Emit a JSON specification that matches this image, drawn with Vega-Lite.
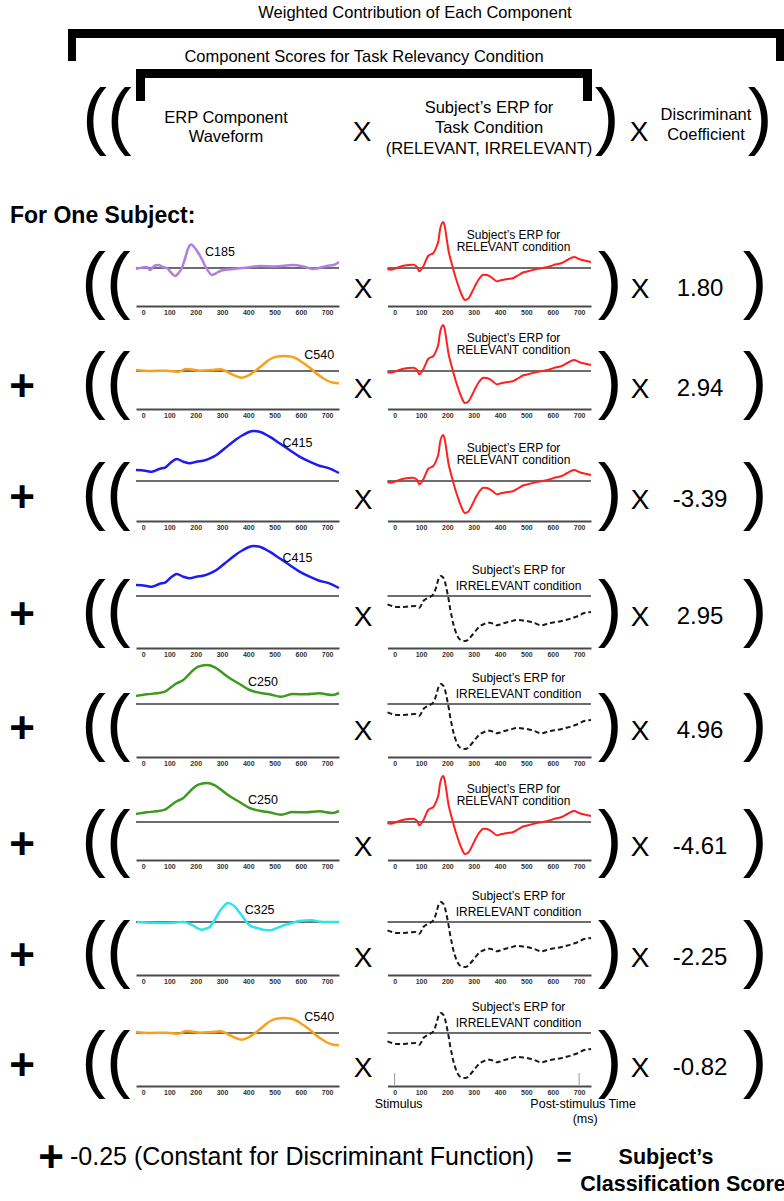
{
"$schema": "https://vega.github.io/schema/vega-lite/v6.json",
"padding": 0,
"background": "#ffffff",
"spacing": 0,
"bounds": "flush",
"config": {
  "font": "Liberation Sans",
  "view": {"stroke": null},
  "axis": {"ticks": false, "grid": false, "domainColor": "#4a4a4a", "domainWidth": 2, "labelFont": "Liberation Sans", "labelFontSize": 7, "labelFontWeight": "bold", "labelColor": "#333333", "labelPadding": 2, "labelFlush": false, "labelOverlap": false}
},
"datasets": {
  "rows": [
    {"row": 1, "op": "", "comp": "C185", "cond": "RELEVANT", "coef": "1.80"},
    {"row": 2, "op": "+", "comp": "C540", "cond": "RELEVANT", "coef": "2.94"},
    {"row": 3, "op": "+", "comp": "C415", "cond": "RELEVANT", "coef": "-3.39"},
    {"row": 4, "op": "+", "comp": "C415", "cond": "IRRELEVANT", "coef": "2.95"},
    {"row": 5, "op": "+", "comp": "C250", "cond": "IRRELEVANT", "coef": "4.96"},
    {"row": 6, "op": "+", "comp": "C250", "cond": "RELEVANT", "coef": "-4.61"},
    {"row": 7, "op": "+", "comp": "C325", "cond": "IRRELEVANT", "coef": "-2.25"},
    {"row": 8, "op": "+", "comp": "C540", "cond": "IRRELEVANT", "coef": "-0.82"}
  ],
  "stim": [{"t": 0, "label": "Stimulus"}, {"t": 700, "label": "Post-stimulus Time"}],
  "comp": [
    {"comp":"C185","t":-27,"v":-0.1},{"comp":"C185","t":14,"v":0.1},{"comp":"C185","t":26,"v":-0.2},{"comp":"C185","t":45,"v":0.25},{"comp":"C185","t":58,"v":0.3},{"comp":"C185","t":75,"v":0.1},{"comp":"C185","t":90,"v":0},{"comp":"C185","t":108,"v":-0.5},{"comp":"C185","t":122,"v":-0.8},{"comp":"C185","t":135,"v":-0.5},{"comp":"C185","t":147,"v":0},{"comp":"C185","t":160,"v":1.0},{"comp":"C185","t":172,"v":2.0},{"comp":"C185","t":183,"v":2.35},{"comp":"C185","t":194,"v":2.1},{"comp":"C185","t":210,"v":1.5},{"comp":"C185","t":225,"v":0.8},{"comp":"C185","t":236,"v":0.2},{"comp":"C185","t":250,"v":-0.4},{"comp":"C185","t":261,"v":-0.7},{"comp":"C185","t":276,"v":-0.55},{"comp":"C185","t":293,"v":-0.3},{"comp":"C185","t":320,"v":-0.15},{"comp":"C185","t":343,"v":-0.1},{"comp":"C185","t":380,"v":0},{"comp":"C185","t":445,"v":0.2},{"comp":"C185","t":500,"v":0.15},{"comp":"C185","t":571,"v":0.3},{"comp":"C185","t":610,"v":0.15},{"comp":"C185","t":647,"v":-0.1},{"comp":"C185","t":670,"v":0},{"comp":"C185","t":698,"v":0.2},{"comp":"C185","t":725,"v":0.3},{"comp":"C185","t":745,"v":0.6},
    {"comp":"C540","t":-27,"v":0.1},{"comp":"C540","t":27,"v":0},{"comp":"C540","t":90,"v":0.03},{"comp":"C540","t":134,"v":-0.07},{"comp":"C540","t":165,"v":0.2},{"comp":"C540","t":216,"v":0.03},{"comp":"C540","t":260,"v":0.1},{"comp":"C540","t":292,"v":0.17},{"comp":"C540","t":310,"v":0.05},{"comp":"C540","t":330,"v":-0.23},{"comp":"C540","t":352,"v":-0.5},{"comp":"C540","t":374,"v":-0.67},{"comp":"C540","t":399,"v":-0.47},{"comp":"C540","t":415,"v":-0.2},{"comp":"C540","t":431,"v":0.1},{"comp":"C540","t":450,"v":0.5},{"comp":"C540","t":469,"v":0.93},{"comp":"C540","t":488,"v":1.25},{"comp":"C540","t":506,"v":1.43},{"comp":"C540","t":538,"v":1.5},{"comp":"C540","t":560,"v":1.45},{"comp":"C540","t":582,"v":1.27},{"comp":"C540","t":600,"v":0.95},{"comp":"C540","t":620,"v":0.6},{"comp":"C540","t":640,"v":0.2},{"comp":"C540","t":658,"v":-0.23},{"comp":"C540","t":678,"v":-0.6},{"comp":"C540","t":696,"v":-0.9},{"comp":"C540","t":720,"v":-1.15},{"comp":"C540","t":745,"v":-1.23},
    {"comp":"C415","t":-27,"v":1.1},{"comp":"C415","t":8,"v":1.03},{"comp":"C415","t":33,"v":0.93},{"comp":"C415","t":64,"v":1.23},{"comp":"C415","t":83,"v":1.33},{"comp":"C415","t":109,"v":1.93},{"comp":"C415","t":128,"v":2.2},{"comp":"C415","t":153,"v":1.93},{"comp":"C415","t":178,"v":1.77},{"comp":"C415","t":203,"v":1.93},{"comp":"C415","t":228,"v":2.03},{"comp":"C415","t":254,"v":2.27},{"comp":"C415","t":279,"v":2.6},{"comp":"C415","t":311,"v":3.27},{"comp":"C415","t":342,"v":3.93},{"comp":"C415","t":380,"v":4.6},{"comp":"C415","t":418,"v":5.0},{"comp":"C415","t":443,"v":4.93},{"comp":"C415","t":481,"v":4.43},{"comp":"C415","t":519,"v":3.77},{"comp":"C415","t":557,"v":3.1},{"comp":"C415","t":595,"v":2.43},{"comp":"C415","t":633,"v":1.93},{"comp":"C415","t":670,"v":1.53},{"comp":"C415","t":708,"v":1.27},{"comp":"C415","t":745,"v":0.8},
    {"comp":"C250","t":-27,"v":0.8},{"comp":"C250","t":14,"v":0.97},{"comp":"C250","t":52,"v":1.07},{"comp":"C250","t":83,"v":1.23},{"comp":"C250","t":109,"v":1.73},{"comp":"C250","t":128,"v":2.07},{"comp":"C250","t":153,"v":2.4},{"comp":"C250","t":178,"v":3.07},{"comp":"C250","t":210,"v":3.73},{"comp":"C250","t":241,"v":3.9},{"comp":"C250","t":273,"v":3.67},{"comp":"C250","t":304,"v":3.07},{"comp":"C250","t":336,"v":2.47},{"comp":"C250","t":367,"v":2.0},{"comp":"C250","t":405,"v":1.4},{"comp":"C250","t":443,"v":1.13},{"comp":"C250","t":481,"v":0.97},{"comp":"C250","t":525,"v":0.73},{"comp":"C250","t":569,"v":1.0},{"comp":"C250","t":620,"v":0.97},{"comp":"C250","t":670,"v":1.07},{"comp":"C250","t":721,"v":0.9},{"comp":"C250","t":745,"v":1.1},
    {"comp":"C325","t":-24,"v":0},{"comp":"C325","t":27,"v":-0.07},{"comp":"C325","t":77,"v":-0.1},{"comp":"C325","t":115,"v":-0.07},{"comp":"C325","t":153,"v":0},{"comp":"C325","t":184,"v":-0.27},{"comp":"C325","t":205,"v":-0.6},{"comp":"C325","t":222,"v":-0.77},{"comp":"C325","t":240,"v":-0.65},{"comp":"C325","t":254,"v":-0.5},{"comp":"C325","t":267,"v":0.0},{"comp":"C325","t":279,"v":0.5},{"comp":"C325","t":292,"v":1.1},{"comp":"C325","t":304,"v":1.5},{"comp":"C325","t":323,"v":1.9},{"comp":"C325","t":335,"v":1.8},{"comp":"C325","t":348,"v":1.57},{"comp":"C325","t":365,"v":1.0},{"comp":"C325","t":380,"v":0.5},{"comp":"C325","t":393,"v":0.0},{"comp":"C325","t":405,"v":-0.33},{"comp":"C325","t":425,"v":-0.55},{"comp":"C325","t":443,"v":-0.67},{"comp":"C325","t":462,"v":-0.8},{"comp":"C325","t":481,"v":-0.83},{"comp":"C325","t":500,"v":-0.7},{"comp":"C325","t":519,"v":-0.5},{"comp":"C325","t":538,"v":-0.3},{"comp":"C325","t":557,"v":-0.17},{"comp":"C325","t":595,"v":0.1},{"comp":"C325","t":639,"v":0.17},{"comp":"C325","t":683,"v":0},{"comp":"C325","t":745,"v":0}
  ],
  "erp": [
    {"cond":"RELEVANT","t":-27,"v":-0.1},{"cond":"RELEVANT","t":-17,"v":-0.17},{"cond":"RELEVANT","t":8,"v":0},{"cond":"RELEVANT","t":33,"v":0.23},{"cond":"RELEVANT","t":71,"v":0.33},{"cond":"RELEVANT","t":85,"v":0.1},{"cond":"RELEVANT","t":94,"v":-0.33},{"cond":"RELEVANT","t":109,"v":0.17},{"cond":"RELEVANT","t":128,"v":1.23},{"cond":"RELEVANT","t":147,"v":1.5},{"cond":"RELEVANT","t":160,"v":2.2},{"cond":"RELEVANT","t":166,"v":2.67},{"cond":"RELEVANT","t":172,"v":3.8},{"cond":"RELEVANT","t":178,"v":4.4},{"cond":"RELEVANT","t":184,"v":4.6},{"cond":"RELEVANT","t":190,"v":4.2},{"cond":"RELEVANT","t":196,"v":3.2},{"cond":"RELEVANT","t":204,"v":1.8},{"cond":"RELEVANT","t":213,"v":0.8},{"cond":"RELEVANT","t":223,"v":-0.17},{"cond":"RELEVANT","t":232,"v":-1.0},{"cond":"RELEVANT","t":242,"v":-1.8},{"cond":"RELEVANT","t":255,"v":-2.7},{"cond":"RELEVANT","t":267,"v":-3.2},{"cond":"RELEVANT","t":280,"v":-3.05},{"cond":"RELEVANT","t":292,"v":-2.5},{"cond":"RELEVANT","t":305,"v":-1.8},{"cond":"RELEVANT","t":320,"v":-1.1},{"cond":"RELEVANT","t":337,"v":-0.67},{"cond":"RELEVANT","t":350,"v":-0.7},{"cond":"RELEVANT","t":362,"v":-0.83},{"cond":"RELEVANT","t":375,"v":-1.1},{"cond":"RELEVANT","t":388,"v":-1.33},{"cond":"RELEVANT","t":400,"v":-1.25},{"cond":"RELEVANT","t":413,"v":-1.17},{"cond":"RELEVANT","t":430,"v":-1.1},{"cond":"RELEVANT","t":451,"v":-1.0},{"cond":"RELEVANT","t":470,"v":-0.7},{"cond":"RELEVANT","t":489,"v":-0.43},{"cond":"RELEVANT","t":510,"v":-0.3},{"cond":"RELEVANT","t":539,"v":-0.1},{"cond":"RELEVANT","t":560,"v":0.0},{"cond":"RELEVANT","t":590,"v":0.17},{"cond":"RELEVANT","t":610,"v":0.35},{"cond":"RELEVANT","t":634,"v":0.5},{"cond":"RELEVANT","t":655,"v":0.8},{"cond":"RELEVANT","t":681,"v":1.1},{"cond":"RELEVANT","t":700,"v":0.9},{"cond":"RELEVANT","t":716,"v":0.77},{"cond":"RELEVANT","t":745,"v":0.6},
    {"cond":"IRRELEVANT","t":-27,"v":-0.83},{"cond":"IRRELEVANT","t":-10,"v":-1.0},{"cond":"IRRELEVANT","t":8,"v":-1.1},{"cond":"IRRELEVANT","t":46,"v":-1.07},{"cond":"IRRELEVANT","t":78,"v":-1.0},{"cond":"IRRELEVANT","t":94,"v":-1.17},{"cond":"IRRELEVANT","t":109,"v":-0.5},{"cond":"IRRELEVANT","t":128,"v":-0.17},{"cond":"IRRELEVANT","t":147,"v":0.17},{"cond":"IRRELEVANT","t":158,"v":0.9},{"cond":"IRRELEVANT","t":166,"v":1.67},{"cond":"IRRELEVANT","t":175,"v":2.0},{"cond":"IRRELEVANT","t":182,"v":1.9},{"cond":"IRRELEVANT","t":188,"v":1.67},{"cond":"IRRELEVANT","t":194,"v":1.1},{"cond":"IRRELEVANT","t":200,"v":0.33},{"cond":"IRRELEVANT","t":206,"v":-0.5},{"cond":"IRRELEVANT","t":211,"v":-1.33},{"cond":"IRRELEVANT","t":217,"v":-2.1},{"cond":"IRRELEVANT","t":223,"v":-2.83},{"cond":"IRRELEVANT","t":232,"v":-3.6},{"cond":"IRRELEVANT","t":242,"v":-4.17},{"cond":"IRRELEVANT","t":255,"v":-4.45},{"cond":"IRRELEVANT","t":267,"v":-4.5},{"cond":"IRRELEVANT","t":278,"v":-4.4},{"cond":"IRRELEVANT","t":286,"v":-4.17},{"cond":"IRRELEVANT","t":298,"v":-3.8},{"cond":"IRRELEVANT","t":312,"v":-3.33},{"cond":"IRRELEVANT","t":325,"v":-3.0},{"cond":"IRRELEVANT","t":337,"v":-2.83},{"cond":"IRRELEVANT","t":350,"v":-2.7},{"cond":"IRRELEVANT","t":362,"v":-2.67},{"cond":"IRRELEVANT","t":375,"v":-2.8},{"cond":"IRRELEVANT","t":388,"v":-2.93},{"cond":"IRRELEVANT","t":400,"v":-2.85},{"cond":"IRRELEVANT","t":413,"v":-2.73},{"cond":"IRRELEVANT","t":440,"v":-2.55},{"cond":"IRRELEVANT","t":464,"v":-2.4},{"cond":"IRRELEVANT","t":485,"v":-2.45},{"cond":"IRRELEVANT","t":501,"v":-2.5},{"cond":"IRRELEVANT","t":527,"v":-2.67},{"cond":"IRRELEVANT","t":558,"v":-2.93},{"cond":"IRRELEVANT","t":577,"v":-2.8},{"cond":"IRRELEVANT","t":596,"v":-2.67},{"cond":"IRRELEVANT","t":615,"v":-2.6},{"cond":"IRRELEVANT","t":634,"v":-2.5},{"cond":"IRRELEVANT","t":656,"v":-2.35},{"cond":"IRRELEVANT","t":678,"v":-2.17},{"cond":"IRRELEVANT","t":700,"v":-1.95},{"cond":"IRRELEVANT","t":716,"v":-1.73},{"cond":"IRRELEVANT","t":730,"v":-1.65},{"cond":"IRRELEVANT","t":745,"v":-1.6}
  ]
},
"vconcat": [
  {
    "width": 784, "height": 220,
    "data": {"name": "rows"},
    "transform": [{"filter": "datum.row === 1"}],
    "layer": [
      {"mark": {"type": "rect", "color": "#000000"}, "encoding": {"x": {"datum": 68, "type": "quantitative", "scale": {"domain": [0, 784], "range": [0, 784]}, "axis": null}, "x2": {"datum": 784}, "y": {"datum": 29, "type": "quantitative", "scale": {"domain": [0, 220], "reverse": true}, "axis": null}, "y2": {"datum": 38}}},
      {"mark": {"type": "rect", "color": "#000000"}, "encoding": {"x": {"datum": 68, "type": "quantitative", "scale": {"domain": [0, 784], "range": [0, 784]}, "axis": null}, "x2": {"datum": 76}, "y": {"datum": 29, "type": "quantitative", "scale": {"domain": [0, 220], "reverse": true}, "axis": null}, "y2": {"datum": 61}}},
      {"mark": {"type": "rect", "color": "#000000"}, "encoding": {"x": {"datum": 776, "type": "quantitative", "scale": {"domain": [0, 784], "range": [0, 784]}, "axis": null}, "x2": {"datum": 784}, "y": {"datum": 29, "type": "quantitative", "scale": {"domain": [0, 220], "reverse": true}, "axis": null}, "y2": {"datum": 61}}},
      {"mark": {"type": "rect", "color": "#000000"}, "encoding": {"x": {"datum": 136, "type": "quantitative", "scale": {"domain": [0, 784], "range": [0, 784]}, "axis": null}, "x2": {"datum": 592}, "y": {"datum": 69, "type": "quantitative", "scale": {"domain": [0, 220], "reverse": true}, "axis": null}, "y2": {"datum": 78}}},
      {"mark": {"type": "rect", "color": "#000000"}, "encoding": {"x": {"datum": 136, "type": "quantitative", "scale": {"domain": [0, 784], "range": [0, 784]}, "axis": null}, "x2": {"datum": 145}, "y": {"datum": 69, "type": "quantitative", "scale": {"domain": [0, 220], "reverse": true}, "axis": null}, "y2": {"datum": 101}}},
      {"mark": {"type": "rect", "color": "#000000"}, "encoding": {"x": {"datum": 583, "type": "quantitative", "scale": {"domain": [0, 784], "range": [0, 784]}, "axis": null}, "x2": {"datum": 592}, "y": {"datum": 69, "type": "quantitative", "scale": {"domain": [0, 220], "reverse": true}, "axis": null}, "y2": {"datum": 101}}},
      {"mark": {"type": "text", "text": "Weighted Contribution of Each Component", "fontSize": 16.5, "align": "center", "baseline": "middle"}, "encoding": {"x": {"datum": 415, "type": "quantitative", "scale": {"domain": [0, 784], "range": [0, 784]}, "axis": null}, "y": {"datum": 13, "type": "quantitative", "scale": {"domain": [0, 220], "reverse": true}, "axis": null}}},
      {"mark": {"type": "text", "text": "Component Scores for Task Relevancy Condition", "fontSize": 16.5, "align": "center", "baseline": "middle"}, "encoding": {"x": {"datum": 364, "type": "quantitative", "scale": {"domain": [0, 784], "range": [0, 784]}, "axis": null}, "y": {"datum": 57, "type": "quantitative", "scale": {"domain": [0, 220], "reverse": true}, "axis": null}}},
      {"mark": {"type": "text", "text": "((", "fontSize": 74, "align": "center", "baseline": "middle", "dy": -3}, "encoding": {"x": {"datum": 107, "type": "quantitative", "scale": {"domain": [0, 784], "range": [0, 784]}, "axis": null}, "y": {"datum": 122, "type": "quantitative", "scale": {"domain": [0, 220], "reverse": true}, "axis": null}}},
      {"mark": {"type": "text", "text": "ERP Component", "fontSize": 16.5, "align": "center", "baseline": "middle"}, "encoding": {"x": {"datum": 226, "type": "quantitative", "scale": {"domain": [0, 784], "range": [0, 784]}, "axis": null}, "y": {"datum": 118, "type": "quantitative", "scale": {"domain": [0, 220], "reverse": true}, "axis": null}}},
      {"mark": {"type": "text", "text": "Waveform", "fontSize": 16.5, "align": "center", "baseline": "middle"}, "encoding": {"x": {"datum": 226, "type": "quantitative", "scale": {"domain": [0, 784], "range": [0, 784]}, "axis": null}, "y": {"datum": 137, "type": "quantitative", "scale": {"domain": [0, 220], "reverse": true}, "axis": null}}},
      {"mark": {"type": "text", "text": "X", "fontSize": 28, "align": "center", "baseline": "middle", "dy": 2}, "encoding": {"x": {"datum": 362, "type": "quantitative", "scale": {"domain": [0, 784], "range": [0, 784]}, "axis": null}, "y": {"datum": 131, "type": "quantitative", "scale": {"domain": [0, 220], "reverse": true}, "axis": null}}},
      {"mark": {"type": "text", "text": "Subject’s ERP for", "fontSize": 16.5, "align": "center", "baseline": "middle"}, "encoding": {"x": {"datum": 489, "type": "quantitative", "scale": {"domain": [0, 784], "range": [0, 784]}, "axis": null}, "y": {"datum": 108, "type": "quantitative", "scale": {"domain": [0, 220], "reverse": true}, "axis": null}}},
      {"mark": {"type": "text", "text": "Task Condition", "fontSize": 16.5, "align": "center", "baseline": "middle"}, "encoding": {"x": {"datum": 489, "type": "quantitative", "scale": {"domain": [0, 784], "range": [0, 784]}, "axis": null}, "y": {"datum": 128, "type": "quantitative", "scale": {"domain": [0, 220], "reverse": true}, "axis": null}}},
      {"mark": {"type": "text", "text": "(RELEVANT, IRRELEVANT)", "fontSize": 16.5, "align": "center", "baseline": "middle"}, "encoding": {"x": {"datum": 489, "type": "quantitative", "scale": {"domain": [0, 784], "range": [0, 784]}, "axis": null}, "y": {"datum": 149, "type": "quantitative", "scale": {"domain": [0, 220], "reverse": true}, "axis": null}}},
      {"mark": {"type": "text", "text": ")", "fontSize": 74, "align": "center", "baseline": "middle", "dy": -3}, "encoding": {"x": {"datum": 607, "type": "quantitative", "scale": {"domain": [0, 784], "range": [0, 784]}, "axis": null}, "y": {"datum": 122, "type": "quantitative", "scale": {"domain": [0, 220], "reverse": true}, "axis": null}}},
      {"mark": {"type": "text", "text": "X", "fontSize": 28, "align": "center", "baseline": "middle", "dy": 2}, "encoding": {"x": {"datum": 639, "type": "quantitative", "scale": {"domain": [0, 784], "range": [0, 784]}, "axis": null}, "y": {"datum": 131, "type": "quantitative", "scale": {"domain": [0, 220], "reverse": true}, "axis": null}}},
      {"mark": {"type": "text", "text": "Discriminant", "fontSize": 16.5, "align": "center", "baseline": "middle"}, "encoding": {"x": {"datum": 706, "type": "quantitative", "scale": {"domain": [0, 784], "range": [0, 784]}, "axis": null}, "y": {"datum": 115, "type": "quantitative", "scale": {"domain": [0, 220], "reverse": true}, "axis": null}}},
      {"mark": {"type": "text", "text": "Coefficient", "fontSize": 16.5, "align": "center", "baseline": "middle"}, "encoding": {"x": {"datum": 706, "type": "quantitative", "scale": {"domain": [0, 784], "range": [0, 784]}, "axis": null}, "y": {"datum": 135, "type": "quantitative", "scale": {"domain": [0, 220], "reverse": true}, "axis": null}}},
      {"mark": {"type": "text", "text": ")", "fontSize": 74, "align": "center", "baseline": "middle", "dy": -3}, "encoding": {"x": {"datum": 760, "type": "quantitative", "scale": {"domain": [0, 784], "range": [0, 784]}, "axis": null}, "y": {"datum": 122, "type": "quantitative", "scale": {"domain": [0, 220], "reverse": true}, "axis": null}}},
      {"mark": {"type": "text", "text": "For One Subject:", "fontSize": 23, "fontWeight": "bold", "align": "left", "baseline": "middle"}, "encoding": {"x": {"datum": 10, "type": "quantitative", "scale": {"domain": [0, 784], "range": [0, 784]}, "axis": null}, "y": {"datum": 216, "type": "quantitative", "scale": {"domain": [0, 220], "reverse": true}, "axis": null}}}
    ]
  },
  {
    "width": 784, "height": 86,
    "resolve": {"scale": {"x": "independent"}, "axis": {"x": "independent"}},
    "layer": [
      {"data": {"name": "rows"}, "transform": [{"filter": "datum.row === 1"}],
       "encoding": {"y": {"datum": -1.8, "type": "quantitative", "scale": {"domain": [-3.8, 4.8], "nice": false, "zero": false}, "axis": null}},
       "layer": [
        {"mark": {"type": "text", "fontSize": 44, "fontWeight": "bold", "align": "center", "baseline": "middle", "dy": 2}, "encoding": {"x": {"datum": 22, "type": "quantitative", "scale": {"domain": [0, 784], "range": [0, 784]}, "axis": null}, "text": {"field": "op"}}},
        {"mark": {"type": "text", "text": "((", "fontSize": 74, "align": "center", "baseline": "middle", "dy": -3}, "encoding": {"x": {"datum": 106, "type": "quantitative", "scale": {"domain": [0, 784], "range": [0, 784]}, "axis": null}}},
        {"mark": {"type": "text", "text": "X", "fontSize": 28, "align": "center", "baseline": "middle", "dy": 4}, "encoding": {"x": {"datum": 363, "type": "quantitative", "scale": {"domain": [0, 784], "range": [0, 784]}, "axis": null}}},
        {"mark": {"type": "text", "text": ")", "fontSize": 74, "align": "center", "baseline": "middle", "dy": -3}, "encoding": {"x": {"datum": 610, "type": "quantitative", "scale": {"domain": [0, 784], "range": [0, 784]}, "axis": null}}},
        {"mark": {"type": "text", "text": "X", "fontSize": 28, "align": "center", "baseline": "middle", "dy": 4}, "encoding": {"x": {"datum": 640, "type": "quantitative", "scale": {"domain": [0, 784], "range": [0, 784]}, "axis": null}}},
        {"mark": {"type": "text", "fontSize": 24, "align": "center", "baseline": "middle", "dy": 3}, "encoding": {"x": {"datum": 700, "type": "quantitative", "scale": {"domain": [0, 784], "range": [0, 784]}, "axis": null}, "text": {"field": "coef"}}},
        {"mark": {"type": "text", "text": ")", "fontSize": 74, "align": "center", "baseline": "middle", "dy": -3}, "encoding": {"x": {"datum": 755, "type": "quantitative", "scale": {"domain": [0, 784], "range": [0, 784]}, "axis": null}}}
       ]},
      {"layer": [
        {"data": {"name": "rows"}, "transform": [{"filter": "datum.row === 1"}], "mark": {"type": "rule", "color": "#3c3c3c", "strokeWidth": 1.5}, "encoding": {"x": {"datum": -27, "type": "quantitative", "scale": {"domain": [-27, 745], "range": [136, 339], "nice": false, "zero": false}, "axis": {"orient": "bottom", "values": [0,100,200,300,400,500,600,700], "format": "d", "title": null}}, "x2": {"datum": 745}, "y": {"datum": 0, "type": "quantitative", "scale": {"domain": [-3.8, 4.8], "nice": false, "zero": false}, "axis": null}}},
        {"data": {"name": "comp"}, "transform": [{"filter": "datum.comp === 'C185'"}], "mark": {"type": "line", "color": "#b27fe0", "strokeWidth": 2.5, "interpolate": "monotone"}, "encoding": {"x": {"field": "t", "type": "quantitative", "scale": {"domain": [-27, 745], "range": [136, 339], "nice": false, "zero": false}, "axis": {"orient": "bottom", "values": [0,100,200,300,400,500,600,700], "format": "d", "title": null}}, "y": {"field": "v", "type": "quantitative", "scale": {"domain": [-3.8, 4.8], "nice": false, "zero": false}, "axis": null}}},
        {"data": {"name": "rows"}, "transform": [{"filter": "datum.row === 1"}], "mark": {"type": "text", "fontSize": 12.5, "align": "center", "baseline": "middle"}, "encoding": {"x": {"datum": 292, "type": "quantitative", "scale": {"domain": [-27, 745], "range": [136, 339], "nice": false, "zero": false}, "axis": {"orient": "bottom", "values": [0,100,200,300,400,500,600,700], "format": "d", "title": null}}, "y": {"datum": 1.57, "type": "quantitative", "scale": {"domain": [-3.8, 4.8], "nice": false, "zero": false}, "axis": null}, "text": {"field": "comp"}}}
      ]},
      {"layer": [
        {"data": {"name": "rows"}, "transform": [{"filter": "datum.row === 1"}], "mark": {"type": "rule", "color": "#3c3c3c", "strokeWidth": 1.5}, "encoding": {"x": {"datum": -27, "type": "quantitative", "scale": {"domain": [-27, 745], "range": [387.5, 591], "nice": false, "zero": false}, "axis": {"orient": "bottom", "values": [0,100,200,300,400,500,600,700], "format": "d", "title": null}}, "x2": {"datum": 745}, "y": {"datum": 0, "type": "quantitative", "scale": {"domain": [-3.8, 4.8], "nice": false, "zero": false}, "axis": null}}},
        {"data": {"name": "erp"}, "transform": [{"filter": "datum.cond === 'RELEVANT'"}], "mark": {"type": "line", "color": "#ff2020", "strokeWidth": 2, "interpolate": "monotone"}, "encoding": {"x": {"field": "t", "type": "quantitative", "scale": {"domain": [-27, 745], "range": [387.5, 591], "nice": false, "zero": false}, "axis": {"orient": "bottom", "values": [0,100,200,300,400,500,600,700], "format": "d", "title": null}}, "y": {"field": "v", "type": "quantitative", "scale": {"domain": [-3.8, 4.8], "nice": false, "zero": false}, "axis": null}}},
        {"data": {"name": "rows"}, "transform": [{"filter": "datum.row === 1"}], "mark": {"type": "text", "text": "Subject’s ERP for", "fontSize": 12, "align": "center", "baseline": "middle"}, "encoding": {"x": {"datum": 451, "type": "quantitative", "scale": {"domain": [-27, 745], "range": [387.5, 591], "nice": false, "zero": false}, "axis": {"orient": "bottom", "values": [0,100,200,300,400,500,600,700], "format": "d", "title": null}}, "y": {"datum": 3.3, "type": "quantitative", "scale": {"domain": [-3.8, 4.8], "nice": false, "zero": false}, "axis": null}}},
        {"data": {"name": "rows"}, "transform": [{"filter": "datum.row === 1"}], "mark": {"type": "text", "text": "RELEVANT condition", "fontSize": 12, "align": "center", "baseline": "middle"}, "encoding": {"x": {"datum": 451, "type": "quantitative", "scale": {"domain": [-27, 745], "range": [387.5, 591], "nice": false, "zero": false}, "axis": {"orient": "bottom", "values": [0,100,200,300,400,500,600,700], "format": "d", "title": null}}, "y": {"datum": 2.1, "type": "quantitative", "scale": {"domain": [-3.8, 4.8], "nice": false, "zero": false}, "axis": null}}}
      ]}
    ]
  },
  {
    "width": 784, "height": 103,
    "resolve": {"scale": {"x": "independent"}, "axis": {"x": "independent"}},
    "layer": [
      {"data": {"name": "rows"}, "transform": [{"filter": "datum.row === 2"}],
       "encoding": {"y": {"datum": -1.5, "type": "quantitative", "scale": {"domain": [-3.8, 6.5], "nice": false, "zero": false}, "axis": null}},
       "layer": [
        {"mark": {"type": "text", "fontSize": 44, "fontWeight": "bold", "align": "center", "baseline": "middle", "dy": 2}, "encoding": {"x": {"datum": 22, "type": "quantitative", "scale": {"domain": [0, 784], "range": [0, 784]}, "axis": null}, "text": {"field": "op"}}},
        {"mark": {"type": "text", "text": "((", "fontSize": 74, "align": "center", "baseline": "middle", "dy": -3}, "encoding": {"x": {"datum": 106, "type": "quantitative", "scale": {"domain": [0, 784], "range": [0, 784]}, "axis": null}}},
        {"mark": {"type": "text", "text": "X", "fontSize": 28, "align": "center", "baseline": "middle", "dy": 4}, "encoding": {"x": {"datum": 363, "type": "quantitative", "scale": {"domain": [0, 784], "range": [0, 784]}, "axis": null}}},
        {"mark": {"type": "text", "text": ")", "fontSize": 74, "align": "center", "baseline": "middle", "dy": -3}, "encoding": {"x": {"datum": 610, "type": "quantitative", "scale": {"domain": [0, 784], "range": [0, 784]}, "axis": null}}},
        {"mark": {"type": "text", "text": "X", "fontSize": 28, "align": "center", "baseline": "middle", "dy": 4}, "encoding": {"x": {"datum": 640, "type": "quantitative", "scale": {"domain": [0, 784], "range": [0, 784]}, "axis": null}}},
        {"mark": {"type": "text", "fontSize": 24, "align": "center", "baseline": "middle", "dy": 3}, "encoding": {"x": {"datum": 700, "type": "quantitative", "scale": {"domain": [0, 784], "range": [0, 784]}, "axis": null}, "text": {"field": "coef"}}},
        {"mark": {"type": "text", "text": ")", "fontSize": 74, "align": "center", "baseline": "middle", "dy": -3}, "encoding": {"x": {"datum": 755, "type": "quantitative", "scale": {"domain": [0, 784], "range": [0, 784]}, "axis": null}}}
       ]},
      {"layer": [
        {"data": {"name": "rows"}, "transform": [{"filter": "datum.row === 2"}], "mark": {"type": "rule", "color": "#3c3c3c", "strokeWidth": 1.5}, "encoding": {"x": {"datum": -27, "type": "quantitative", "scale": {"domain": [-27, 745], "range": [136, 339], "nice": false, "zero": false}, "axis": {"orient": "bottom", "values": [0,100,200,300,400,500,600,700], "format": "d", "title": null}}, "x2": {"datum": 745}, "y": {"datum": 0, "type": "quantitative", "scale": {"domain": [-3.8, 6.5], "nice": false, "zero": false}, "axis": null}}},
        {"data": {"name": "comp"}, "transform": [{"filter": "datum.comp === 'C540'"}], "mark": {"type": "line", "color": "#f7a11c", "strokeWidth": 2.5, "interpolate": "monotone"}, "encoding": {"x": {"field": "t", "type": "quantitative", "scale": {"domain": [-27, 745], "range": [136, 339], "nice": false, "zero": false}, "axis": {"orient": "bottom", "values": [0,100,200,300,400,500,600,700], "format": "d", "title": null}}, "y": {"field": "v", "type": "quantitative", "scale": {"domain": [-3.8, 6.5], "nice": false, "zero": false}, "axis": null}}},
        {"data": {"name": "rows"}, "transform": [{"filter": "datum.row === 2"}], "mark": {"type": "text", "fontSize": 12.5, "align": "center", "baseline": "middle"}, "encoding": {"x": {"datum": 670, "type": "quantitative", "scale": {"domain": [-27, 745], "range": [136, 339], "nice": false, "zero": false}, "axis": {"orient": "bottom", "values": [0,100,200,300,400,500,600,700], "format": "d", "title": null}}, "y": {"datum": 1.6, "type": "quantitative", "scale": {"domain": [-3.8, 6.5], "nice": false, "zero": false}, "axis": null}, "text": {"field": "comp"}}}
      ]},
      {"layer": [
        {"data": {"name": "rows"}, "transform": [{"filter": "datum.row === 2"}], "mark": {"type": "rule", "color": "#3c3c3c", "strokeWidth": 1.5}, "encoding": {"x": {"datum": -27, "type": "quantitative", "scale": {"domain": [-27, 745], "range": [387.5, 591], "nice": false, "zero": false}, "axis": {"orient": "bottom", "values": [0,100,200,300,400,500,600,700], "format": "d", "title": null}}, "x2": {"datum": 745}, "y": {"datum": 0, "type": "quantitative", "scale": {"domain": [-3.8, 6.5], "nice": false, "zero": false}, "axis": null}}},
        {"data": {"name": "erp"}, "transform": [{"filter": "datum.cond === 'RELEVANT'"}], "mark": {"type": "line", "color": "#ff2020", "strokeWidth": 2, "interpolate": "monotone"}, "encoding": {"x": {"field": "t", "type": "quantitative", "scale": {"domain": [-27, 745], "range": [387.5, 591], "nice": false, "zero": false}, "axis": {"orient": "bottom", "values": [0,100,200,300,400,500,600,700], "format": "d", "title": null}}, "y": {"field": "v", "type": "quantitative", "scale": {"domain": [-3.8, 6.5], "nice": false, "zero": false}, "axis": null}}},
        {"data": {"name": "rows"}, "transform": [{"filter": "datum.row === 2"}], "mark": {"type": "text", "text": "Subject’s ERP for", "fontSize": 12, "align": "center", "baseline": "middle"}, "encoding": {"x": {"datum": 451, "type": "quantitative", "scale": {"domain": [-27, 745], "range": [387.5, 591], "nice": false, "zero": false}, "axis": {"orient": "bottom", "values": [0,100,200,300,400,500,600,700], "format": "d", "title": null}}, "y": {"datum": 3.3, "type": "quantitative", "scale": {"domain": [-3.8, 6.5], "nice": false, "zero": false}, "axis": null}}},
        {"data": {"name": "rows"}, "transform": [{"filter": "datum.row === 2"}], "mark": {"type": "text", "text": "RELEVANT condition", "fontSize": 12, "align": "center", "baseline": "middle"}, "encoding": {"x": {"datum": 451, "type": "quantitative", "scale": {"domain": [-27, 745], "range": [387.5, 591], "nice": false, "zero": false}, "axis": {"orient": "bottom", "values": [0,100,200,300,400,500,600,700], "format": "d", "title": null}}, "y": {"datum": 2.1, "type": "quantitative", "scale": {"domain": [-3.8, 6.5], "nice": false, "zero": false}, "axis": null}}}
      ]}
    ]
  },
  {
    "width": 784, "height": 112,
    "resolve": {"scale": {"x": "independent"}, "axis": {"x": "independent"}},
    "layer": [
      {"data": {"name": "rows"}, "transform": [{"filter": "datum.row === 3"}],
       "encoding": {"y": {"datum": -1.6, "type": "quantitative", "scale": {"domain": [-4.0, 7.2], "nice": false, "zero": false}, "axis": null}},
       "layer": [
        {"mark": {"type": "text", "fontSize": 44, "fontWeight": "bold", "align": "center", "baseline": "middle", "dy": 2}, "encoding": {"x": {"datum": 22, "type": "quantitative", "scale": {"domain": [0, 784], "range": [0, 784]}, "axis": null}, "text": {"field": "op"}}},
        {"mark": {"type": "text", "text": "((", "fontSize": 74, "align": "center", "baseline": "middle", "dy": -3}, "encoding": {"x": {"datum": 106, "type": "quantitative", "scale": {"domain": [0, 784], "range": [0, 784]}, "axis": null}}},
        {"mark": {"type": "text", "text": "X", "fontSize": 28, "align": "center", "baseline": "middle", "dy": 4}, "encoding": {"x": {"datum": 363, "type": "quantitative", "scale": {"domain": [0, 784], "range": [0, 784]}, "axis": null}}},
        {"mark": {"type": "text", "text": ")", "fontSize": 74, "align": "center", "baseline": "middle", "dy": -3}, "encoding": {"x": {"datum": 610, "type": "quantitative", "scale": {"domain": [0, 784], "range": [0, 784]}, "axis": null}}},
        {"mark": {"type": "text", "text": "X", "fontSize": 28, "align": "center", "baseline": "middle", "dy": 4}, "encoding": {"x": {"datum": 640, "type": "quantitative", "scale": {"domain": [0, 784], "range": [0, 784]}, "axis": null}}},
        {"mark": {"type": "text", "fontSize": 24, "align": "center", "baseline": "middle", "dy": 3}, "encoding": {"x": {"datum": 700, "type": "quantitative", "scale": {"domain": [0, 784], "range": [0, 784]}, "axis": null}, "text": {"field": "coef"}}},
        {"mark": {"type": "text", "text": ")", "fontSize": 74, "align": "center", "baseline": "middle", "dy": -3}, "encoding": {"x": {"datum": 755, "type": "quantitative", "scale": {"domain": [0, 784], "range": [0, 784]}, "axis": null}}}
       ]},
      {"layer": [
        {"data": {"name": "rows"}, "transform": [{"filter": "datum.row === 3"}], "mark": {"type": "rule", "color": "#3c3c3c", "strokeWidth": 1.5}, "encoding": {"x": {"datum": -27, "type": "quantitative", "scale": {"domain": [-27, 745], "range": [136, 339], "nice": false, "zero": false}, "axis": {"orient": "bottom", "values": [0,100,200,300,400,500,600,700], "format": "d", "title": null}}, "x2": {"datum": 745}, "y": {"datum": 0, "type": "quantitative", "scale": {"domain": [-4.0, 7.2], "nice": false, "zero": false}, "axis": null}}},
        {"data": {"name": "comp"}, "transform": [{"filter": "datum.comp === 'C415'"}], "mark": {"type": "line", "color": "#1c1cf2", "strokeWidth": 2.5, "interpolate": "monotone"}, "encoding": {"x": {"field": "t", "type": "quantitative", "scale": {"domain": [-27, 745], "range": [136, 339], "nice": false, "zero": false}, "axis": {"orient": "bottom", "values": [0,100,200,300,400,500,600,700], "format": "d", "title": null}}, "y": {"field": "v", "type": "quantitative", "scale": {"domain": [-4.0, 7.2], "nice": false, "zero": false}, "axis": null}}},
        {"data": {"name": "rows"}, "transform": [{"filter": "datum.row === 3"}], "mark": {"type": "text", "fontSize": 12.5, "align": "center", "baseline": "middle"}, "encoding": {"x": {"datum": 587, "type": "quantitative", "scale": {"domain": [-27, 745], "range": [136, 339], "nice": false, "zero": false}, "axis": {"orient": "bottom", "values": [0,100,200,300,400,500,600,700], "format": "d", "title": null}}, "y": {"datum": 3.8, "type": "quantitative", "scale": {"domain": [-4.0, 7.2], "nice": false, "zero": false}, "axis": null}, "text": {"field": "comp"}}}
      ]},
      {"layer": [
        {"data": {"name": "rows"}, "transform": [{"filter": "datum.row === 3"}], "mark": {"type": "rule", "color": "#3c3c3c", "strokeWidth": 1.5}, "encoding": {"x": {"datum": -27, "type": "quantitative", "scale": {"domain": [-27, 745], "range": [387.5, 591], "nice": false, "zero": false}, "axis": {"orient": "bottom", "values": [0,100,200,300,400,500,600,700], "format": "d", "title": null}}, "x2": {"datum": 745}, "y": {"datum": 0, "type": "quantitative", "scale": {"domain": [-4.0, 7.2], "nice": false, "zero": false}, "axis": null}}},
        {"data": {"name": "erp"}, "transform": [{"filter": "datum.cond === 'RELEVANT'"}], "mark": {"type": "line", "color": "#ff2020", "strokeWidth": 2, "interpolate": "monotone"}, "encoding": {"x": {"field": "t", "type": "quantitative", "scale": {"domain": [-27, 745], "range": [387.5, 591], "nice": false, "zero": false}, "axis": {"orient": "bottom", "values": [0,100,200,300,400,500,600,700], "format": "d", "title": null}}, "y": {"field": "v", "type": "quantitative", "scale": {"domain": [-4.0, 7.2], "nice": false, "zero": false}, "axis": null}}},
        {"data": {"name": "rows"}, "transform": [{"filter": "datum.row === 3"}], "mark": {"type": "text", "text": "Subject’s ERP for", "fontSize": 12, "align": "center", "baseline": "middle"}, "encoding": {"x": {"datum": 451, "type": "quantitative", "scale": {"domain": [-27, 745], "range": [387.5, 591], "nice": false, "zero": false}, "axis": {"orient": "bottom", "values": [0,100,200,300,400,500,600,700], "format": "d", "title": null}}, "y": {"datum": 3.3, "type": "quantitative", "scale": {"domain": [-4.0, 7.2], "nice": false, "zero": false}, "axis": null}}},
        {"data": {"name": "rows"}, "transform": [{"filter": "datum.row === 3"}], "mark": {"type": "text", "text": "RELEVANT condition", "fontSize": 12, "align": "center", "baseline": "middle"}, "encoding": {"x": {"datum": 451, "type": "quantitative", "scale": {"domain": [-27, 745], "range": [387.5, 591], "nice": false, "zero": false}, "axis": {"orient": "bottom", "values": [0,100,200,300,400,500,600,700], "format": "d", "title": null}}, "y": {"datum": 2.1, "type": "quantitative", "scale": {"domain": [-4.0, 7.2], "nice": false, "zero": false}, "axis": null}}}
      ]}
    ]
  },
  {
    "width": 784, "height": 127,
    "resolve": {"scale": {"x": "independent"}, "axis": {"x": "independent"}},
    "layer": [
      {"data": {"name": "rows"}, "transform": [{"filter": "datum.row === 4"}],
       "encoding": {"y": {"datum": -1.8, "type": "quantitative", "scale": {"domain": [-5.2, 7.5], "nice": false, "zero": false}, "axis": null}},
       "layer": [
        {"mark": {"type": "text", "fontSize": 44, "fontWeight": "bold", "align": "center", "baseline": "middle", "dy": 2}, "encoding": {"x": {"datum": 22, "type": "quantitative", "scale": {"domain": [0, 784], "range": [0, 784]}, "axis": null}, "text": {"field": "op"}}},
        {"mark": {"type": "text", "text": "((", "fontSize": 74, "align": "center", "baseline": "middle", "dy": -3}, "encoding": {"x": {"datum": 106, "type": "quantitative", "scale": {"domain": [0, 784], "range": [0, 784]}, "axis": null}}},
        {"mark": {"type": "text", "text": "X", "fontSize": 28, "align": "center", "baseline": "middle", "dy": 4}, "encoding": {"x": {"datum": 363, "type": "quantitative", "scale": {"domain": [0, 784], "range": [0, 784]}, "axis": null}}},
        {"mark": {"type": "text", "text": ")", "fontSize": 74, "align": "center", "baseline": "middle", "dy": -3}, "encoding": {"x": {"datum": 610, "type": "quantitative", "scale": {"domain": [0, 784], "range": [0, 784]}, "axis": null}}},
        {"mark": {"type": "text", "text": "X", "fontSize": 28, "align": "center", "baseline": "middle", "dy": 4}, "encoding": {"x": {"datum": 640, "type": "quantitative", "scale": {"domain": [0, 784], "range": [0, 784]}, "axis": null}}},
        {"mark": {"type": "text", "fontSize": 24, "align": "center", "baseline": "middle", "dy": 3}, "encoding": {"x": {"datum": 700, "type": "quantitative", "scale": {"domain": [0, 784], "range": [0, 784]}, "axis": null}, "text": {"field": "coef"}}},
        {"mark": {"type": "text", "text": ")", "fontSize": 74, "align": "center", "baseline": "middle", "dy": -3}, "encoding": {"x": {"datum": 755, "type": "quantitative", "scale": {"domain": [0, 784], "range": [0, 784]}, "axis": null}}}
       ]},
      {"layer": [
        {"data": {"name": "rows"}, "transform": [{"filter": "datum.row === 4"}], "mark": {"type": "rule", "color": "#3c3c3c", "strokeWidth": 1.5}, "encoding": {"x": {"datum": -27, "type": "quantitative", "scale": {"domain": [-27, 745], "range": [136, 339], "nice": false, "zero": false}, "axis": {"orient": "bottom", "values": [0,100,200,300,400,500,600,700], "format": "d", "title": null}}, "x2": {"datum": 745}, "y": {"datum": 0, "type": "quantitative", "scale": {"domain": [-5.2, 7.5], "nice": false, "zero": false}, "axis": null}}},
        {"data": {"name": "comp"}, "transform": [{"filter": "datum.comp === 'C415'"}], "mark": {"type": "line", "color": "#1c1cf2", "strokeWidth": 2.5, "interpolate": "monotone"}, "encoding": {"x": {"field": "t", "type": "quantitative", "scale": {"domain": [-27, 745], "range": [136, 339], "nice": false, "zero": false}, "axis": {"orient": "bottom", "values": [0,100,200,300,400,500,600,700], "format": "d", "title": null}}, "y": {"field": "v", "type": "quantitative", "scale": {"domain": [-5.2, 7.5], "nice": false, "zero": false}, "axis": null}}},
        {"data": {"name": "rows"}, "transform": [{"filter": "datum.row === 4"}], "mark": {"type": "text", "fontSize": 12.5, "align": "center", "baseline": "middle"}, "encoding": {"x": {"datum": 587, "type": "quantitative", "scale": {"domain": [-27, 745], "range": [136, 339], "nice": false, "zero": false}, "axis": {"orient": "bottom", "values": [0,100,200,300,400,500,600,700], "format": "d", "title": null}}, "y": {"datum": 3.8, "type": "quantitative", "scale": {"domain": [-5.2, 7.5], "nice": false, "zero": false}, "axis": null}, "text": {"field": "comp"}}}
      ]},
      {"layer": [
        {"data": {"name": "rows"}, "transform": [{"filter": "datum.row === 4"}], "mark": {"type": "rule", "color": "#3c3c3c", "strokeWidth": 1.5}, "encoding": {"x": {"datum": -27, "type": "quantitative", "scale": {"domain": [-27, 745], "range": [387.5, 591], "nice": false, "zero": false}, "axis": {"orient": "bottom", "values": [0,100,200,300,400,500,600,700], "format": "d", "title": null}}, "x2": {"datum": 745}, "y": {"datum": 0, "type": "quantitative", "scale": {"domain": [-5.2, 7.5], "nice": false, "zero": false}, "axis": null}}},
        {"data": {"name": "erp"}, "transform": [{"filter": "datum.cond === 'IRRELEVANT'"}], "mark": {"type": "line", "color": "#1a1a1a", "strokeWidth": 2, "strokeDash": [5, 3], "interpolate": "monotone"}, "encoding": {"x": {"field": "t", "type": "quantitative", "scale": {"domain": [-27, 745], "range": [387.5, 591], "nice": false, "zero": false}, "axis": {"orient": "bottom", "values": [0,100,200,300,400,500,600,700], "format": "d", "title": null}}, "y": {"field": "v", "type": "quantitative", "scale": {"domain": [-5.2, 7.5], "nice": false, "zero": false}, "axis": null}}},
        {"data": {"name": "rows"}, "transform": [{"filter": "datum.row === 4"}], "mark": {"type": "text", "text": "Subject’s ERP for", "fontSize": 12, "align": "center", "baseline": "middle"}, "encoding": {"x": {"datum": 470, "type": "quantitative", "scale": {"domain": [-27, 745], "range": [387.5, 591], "nice": false, "zero": false}, "axis": {"orient": "bottom", "values": [0,100,200,300,400,500,600,700], "format": "d", "title": null}}, "y": {"datum": 2.65, "type": "quantitative", "scale": {"domain": [-5.2, 7.5], "nice": false, "zero": false}, "axis": null}}},
        {"data": {"name": "rows"}, "transform": [{"filter": "datum.row === 4"}], "mark": {"type": "text", "text": "IRRELEVANT condition", "fontSize": 12, "align": "center", "baseline": "middle"}, "encoding": {"x": {"datum": 470, "type": "quantitative", "scale": {"domain": [-27, 745], "range": [387.5, 591], "nice": false, "zero": false}, "axis": {"orient": "bottom", "values": [0,100,200,300,400,500,600,700], "format": "d", "title": null}}, "y": {"datum": 1.0, "type": "quantitative", "scale": {"domain": [-5.2, 7.5], "nice": false, "zero": false}, "axis": null}}}
      ]}
    ]
  },
  {
    "width": 784, "height": 109,
    "resolve": {"scale": {"x": "independent"}, "axis": {"x": "independent"}},
    "layer": [
      {"data": {"name": "rows"}, "transform": [{"filter": "datum.row === 5"}],
       "encoding": {"y": {"datum": -2.4, "type": "quantitative", "scale": {"domain": [-5.3, 5.6], "nice": false, "zero": false}, "axis": null}},
       "layer": [
        {"mark": {"type": "text", "fontSize": 44, "fontWeight": "bold", "align": "center", "baseline": "middle", "dy": 2}, "encoding": {"x": {"datum": 22, "type": "quantitative", "scale": {"domain": [0, 784], "range": [0, 784]}, "axis": null}, "text": {"field": "op"}}},
        {"mark": {"type": "text", "text": "((", "fontSize": 74, "align": "center", "baseline": "middle", "dy": -3}, "encoding": {"x": {"datum": 106, "type": "quantitative", "scale": {"domain": [0, 784], "range": [0, 784]}, "axis": null}}},
        {"mark": {"type": "text", "text": "X", "fontSize": 28, "align": "center", "baseline": "middle", "dy": 4}, "encoding": {"x": {"datum": 363, "type": "quantitative", "scale": {"domain": [0, 784], "range": [0, 784]}, "axis": null}}},
        {"mark": {"type": "text", "text": ")", "fontSize": 74, "align": "center", "baseline": "middle", "dy": -3}, "encoding": {"x": {"datum": 610, "type": "quantitative", "scale": {"domain": [0, 784], "range": [0, 784]}, "axis": null}}},
        {"mark": {"type": "text", "text": "X", "fontSize": 28, "align": "center", "baseline": "middle", "dy": 4}, "encoding": {"x": {"datum": 640, "type": "quantitative", "scale": {"domain": [0, 784], "range": [0, 784]}, "axis": null}}},
        {"mark": {"type": "text", "fontSize": 24, "align": "center", "baseline": "middle", "dy": 3}, "encoding": {"x": {"datum": 700, "type": "quantitative", "scale": {"domain": [0, 784], "range": [0, 784]}, "axis": null}, "text": {"field": "coef"}}},
        {"mark": {"type": "text", "text": ")", "fontSize": 74, "align": "center", "baseline": "middle", "dy": -3}, "encoding": {"x": {"datum": 755, "type": "quantitative", "scale": {"domain": [0, 784], "range": [0, 784]}, "axis": null}}}
       ]},
      {"layer": [
        {"data": {"name": "rows"}, "transform": [{"filter": "datum.row === 5"}], "mark": {"type": "rule", "color": "#3c3c3c", "strokeWidth": 1.5}, "encoding": {"x": {"datum": -27, "type": "quantitative", "scale": {"domain": [-27, 745], "range": [136, 339], "nice": false, "zero": false}, "axis": {"orient": "bottom", "values": [0,100,200,300,400,500,600,700], "format": "d", "title": null}}, "x2": {"datum": 745}, "y": {"datum": 0, "type": "quantitative", "scale": {"domain": [-5.3, 5.6], "nice": false, "zero": false}, "axis": null}}},
        {"data": {"name": "comp"}, "transform": [{"filter": "datum.comp === 'C250'"}], "mark": {"type": "line", "color": "#3d9a1d", "strokeWidth": 2.5, "interpolate": "monotone"}, "encoding": {"x": {"field": "t", "type": "quantitative", "scale": {"domain": [-27, 745], "range": [136, 339], "nice": false, "zero": false}, "axis": {"orient": "bottom", "values": [0,100,200,300,400,500,600,700], "format": "d", "title": null}}, "y": {"field": "v", "type": "quantitative", "scale": {"domain": [-5.3, 5.6], "nice": false, "zero": false}, "axis": null}}},
        {"data": {"name": "rows"}, "transform": [{"filter": "datum.row === 5"}], "mark": {"type": "text", "fontSize": 12.5, "align": "center", "baseline": "middle"}, "encoding": {"x": {"datum": 456, "type": "quantitative", "scale": {"domain": [-27, 745], "range": [136, 339], "nice": false, "zero": false}, "axis": {"orient": "bottom", "values": [0,100,200,300,400,500,600,700], "format": "d", "title": null}}, "y": {"datum": 2.23, "type": "quantitative", "scale": {"domain": [-5.3, 5.6], "nice": false, "zero": false}, "axis": null}, "text": {"field": "comp"}}}
      ]},
      {"layer": [
        {"data": {"name": "rows"}, "transform": [{"filter": "datum.row === 5"}], "mark": {"type": "rule", "color": "#3c3c3c", "strokeWidth": 1.5}, "encoding": {"x": {"datum": -27, "type": "quantitative", "scale": {"domain": [-27, 745], "range": [387.5, 591], "nice": false, "zero": false}, "axis": {"orient": "bottom", "values": [0,100,200,300,400,500,600,700], "format": "d", "title": null}}, "x2": {"datum": 745}, "y": {"datum": 0, "type": "quantitative", "scale": {"domain": [-5.3, 5.6], "nice": false, "zero": false}, "axis": null}}},
        {"data": {"name": "erp"}, "transform": [{"filter": "datum.cond === 'IRRELEVANT'"}], "mark": {"type": "line", "color": "#1a1a1a", "strokeWidth": 2, "strokeDash": [5, 3], "interpolate": "monotone"}, "encoding": {"x": {"field": "t", "type": "quantitative", "scale": {"domain": [-27, 745], "range": [387.5, 591], "nice": false, "zero": false}, "axis": {"orient": "bottom", "values": [0,100,200,300,400,500,600,700], "format": "d", "title": null}}, "y": {"field": "v", "type": "quantitative", "scale": {"domain": [-5.3, 5.6], "nice": false, "zero": false}, "axis": null}}},
        {"data": {"name": "rows"}, "transform": [{"filter": "datum.row === 5"}], "mark": {"type": "text", "text": "Subject’s ERP for", "fontSize": 12, "align": "center", "baseline": "middle"}, "encoding": {"x": {"datum": 470, "type": "quantitative", "scale": {"domain": [-27, 745], "range": [387.5, 591], "nice": false, "zero": false}, "axis": {"orient": "bottom", "values": [0,100,200,300,400,500,600,700], "format": "d", "title": null}}, "y": {"datum": 2.65, "type": "quantitative", "scale": {"domain": [-5.3, 5.6], "nice": false, "zero": false}, "axis": null}}},
        {"data": {"name": "rows"}, "transform": [{"filter": "datum.row === 5"}], "mark": {"type": "text", "text": "IRRELEVANT condition", "fontSize": 12, "align": "center", "baseline": "middle"}, "encoding": {"x": {"datum": 470, "type": "quantitative", "scale": {"domain": [-27, 745], "range": [387.5, 591], "nice": false, "zero": false}, "axis": {"orient": "bottom", "values": [0,100,200,300,400,500,600,700], "format": "d", "title": null}}, "y": {"datum": 1.0, "type": "quantitative", "scale": {"domain": [-5.3, 5.6], "nice": false, "zero": false}, "axis": null}}}
      ]}
    ]
  },
  {
    "width": 784, "height": 103,
    "resolve": {"scale": {"x": "independent"}, "axis": {"x": "independent"}},
    "layer": [
      {"data": {"name": "rows"}, "transform": [{"filter": "datum.row === 6"}],
       "encoding": {"y": {"datum": -2.2, "type": "quantitative", "scale": {"domain": [-3.8, 6.5], "nice": false, "zero": false}, "axis": null}},
       "layer": [
        {"mark": {"type": "text", "fontSize": 44, "fontWeight": "bold", "align": "center", "baseline": "middle", "dy": 2}, "encoding": {"x": {"datum": 22, "type": "quantitative", "scale": {"domain": [0, 784], "range": [0, 784]}, "axis": null}, "text": {"field": "op"}}},
        {"mark": {"type": "text", "text": "((", "fontSize": 74, "align": "center", "baseline": "middle", "dy": -3}, "encoding": {"x": {"datum": 106, "type": "quantitative", "scale": {"domain": [0, 784], "range": [0, 784]}, "axis": null}}},
        {"mark": {"type": "text", "text": "X", "fontSize": 28, "align": "center", "baseline": "middle", "dy": 4}, "encoding": {"x": {"datum": 363, "type": "quantitative", "scale": {"domain": [0, 784], "range": [0, 784]}, "axis": null}}},
        {"mark": {"type": "text", "text": ")", "fontSize": 74, "align": "center", "baseline": "middle", "dy": -3}, "encoding": {"x": {"datum": 610, "type": "quantitative", "scale": {"domain": [0, 784], "range": [0, 784]}, "axis": null}}},
        {"mark": {"type": "text", "text": "X", "fontSize": 28, "align": "center", "baseline": "middle", "dy": 4}, "encoding": {"x": {"datum": 640, "type": "quantitative", "scale": {"domain": [0, 784], "range": [0, 784]}, "axis": null}}},
        {"mark": {"type": "text", "fontSize": 24, "align": "center", "baseline": "middle", "dy": 3}, "encoding": {"x": {"datum": 700, "type": "quantitative", "scale": {"domain": [0, 784], "range": [0, 784]}, "axis": null}, "text": {"field": "coef"}}},
        {"mark": {"type": "text", "text": ")", "fontSize": 74, "align": "center", "baseline": "middle", "dy": -3}, "encoding": {"x": {"datum": 755, "type": "quantitative", "scale": {"domain": [0, 784], "range": [0, 784]}, "axis": null}}}
       ]},
      {"layer": [
        {"data": {"name": "rows"}, "transform": [{"filter": "datum.row === 6"}], "mark": {"type": "rule", "color": "#3c3c3c", "strokeWidth": 1.5}, "encoding": {"x": {"datum": -27, "type": "quantitative", "scale": {"domain": [-27, 745], "range": [136, 339], "nice": false, "zero": false}, "axis": {"orient": "bottom", "values": [0,100,200,300,400,500,600,700], "format": "d", "title": null}}, "x2": {"datum": 745}, "y": {"datum": 0, "type": "quantitative", "scale": {"domain": [-3.8, 6.5], "nice": false, "zero": false}, "axis": null}}},
        {"data": {"name": "comp"}, "transform": [{"filter": "datum.comp === 'C250'"}], "mark": {"type": "line", "color": "#3d9a1d", "strokeWidth": 2.5, "interpolate": "monotone"}, "encoding": {"x": {"field": "t", "type": "quantitative", "scale": {"domain": [-27, 745], "range": [136, 339], "nice": false, "zero": false}, "axis": {"orient": "bottom", "values": [0,100,200,300,400,500,600,700], "format": "d", "title": null}}, "y": {"field": "v", "type": "quantitative", "scale": {"domain": [-3.8, 6.5], "nice": false, "zero": false}, "axis": null}}},
        {"data": {"name": "rows"}, "transform": [{"filter": "datum.row === 6"}], "mark": {"type": "text", "fontSize": 12.5, "align": "center", "baseline": "middle"}, "encoding": {"x": {"datum": 456, "type": "quantitative", "scale": {"domain": [-27, 745], "range": [136, 339], "nice": false, "zero": false}, "axis": {"orient": "bottom", "values": [0,100,200,300,400,500,600,700], "format": "d", "title": null}}, "y": {"datum": 2.23, "type": "quantitative", "scale": {"domain": [-3.8, 6.5], "nice": false, "zero": false}, "axis": null}, "text": {"field": "comp"}}}
      ]},
      {"layer": [
        {"data": {"name": "rows"}, "transform": [{"filter": "datum.row === 6"}], "mark": {"type": "rule", "color": "#3c3c3c", "strokeWidth": 1.5}, "encoding": {"x": {"datum": -27, "type": "quantitative", "scale": {"domain": [-27, 745], "range": [387.5, 591], "nice": false, "zero": false}, "axis": {"orient": "bottom", "values": [0,100,200,300,400,500,600,700], "format": "d", "title": null}}, "x2": {"datum": 745}, "y": {"datum": 0, "type": "quantitative", "scale": {"domain": [-3.8, 6.5], "nice": false, "zero": false}, "axis": null}}},
        {"data": {"name": "erp"}, "transform": [{"filter": "datum.cond === 'RELEVANT'"}], "mark": {"type": "line", "color": "#ff2020", "strokeWidth": 2, "interpolate": "monotone"}, "encoding": {"x": {"field": "t", "type": "quantitative", "scale": {"domain": [-27, 745], "range": [387.5, 591], "nice": false, "zero": false}, "axis": {"orient": "bottom", "values": [0,100,200,300,400,500,600,700], "format": "d", "title": null}}, "y": {"field": "v", "type": "quantitative", "scale": {"domain": [-3.8, 6.5], "nice": false, "zero": false}, "axis": null}}},
        {"data": {"name": "rows"}, "transform": [{"filter": "datum.row === 6"}], "mark": {"type": "text", "text": "Subject’s ERP for", "fontSize": 12, "align": "center", "baseline": "middle"}, "encoding": {"x": {"datum": 451, "type": "quantitative", "scale": {"domain": [-27, 745], "range": [387.5, 591], "nice": false, "zero": false}, "axis": {"orient": "bottom", "values": [0,100,200,300,400,500,600,700], "format": "d", "title": null}}, "y": {"datum": 3.3, "type": "quantitative", "scale": {"domain": [-3.8, 6.5], "nice": false, "zero": false}, "axis": null}}},
        {"data": {"name": "rows"}, "transform": [{"filter": "datum.row === 6"}], "mark": {"type": "text", "text": "RELEVANT condition", "fontSize": 12, "align": "center", "baseline": "middle"}, "encoding": {"x": {"datum": 451, "type": "quantitative", "scale": {"domain": [-27, 745], "range": [387.5, 591], "nice": false, "zero": false}, "axis": {"orient": "bottom", "values": [0,100,200,300,400,500,600,700], "format": "d", "title": null}}, "y": {"datum": 2.1, "type": "quantitative", "scale": {"domain": [-3.8, 6.5], "nice": false, "zero": false}, "axis": null}}}
      ]}
    ]
  },
  {
    "width": 784, "height": 115,
    "resolve": {"scale": {"x": "independent"}, "axis": {"x": "independent"}},
    "layer": [
      {"data": {"name": "rows"}, "transform": [{"filter": "datum.row === 7"}],
       "encoding": {"y": {"datum": -3.3, "type": "quantitative", "scale": {"domain": [-5.3, 6.2], "nice": false, "zero": false}, "axis": null}},
       "layer": [
        {"mark": {"type": "text", "fontSize": 44, "fontWeight": "bold", "align": "center", "baseline": "middle", "dy": 2}, "encoding": {"x": {"datum": 22, "type": "quantitative", "scale": {"domain": [0, 784], "range": [0, 784]}, "axis": null}, "text": {"field": "op"}}},
        {"mark": {"type": "text", "text": "((", "fontSize": 74, "align": "center", "baseline": "middle", "dy": -3}, "encoding": {"x": {"datum": 106, "type": "quantitative", "scale": {"domain": [0, 784], "range": [0, 784]}, "axis": null}}},
        {"mark": {"type": "text", "text": "X", "fontSize": 28, "align": "center", "baseline": "middle", "dy": 4}, "encoding": {"x": {"datum": 363, "type": "quantitative", "scale": {"domain": [0, 784], "range": [0, 784]}, "axis": null}}},
        {"mark": {"type": "text", "text": ")", "fontSize": 74, "align": "center", "baseline": "middle", "dy": -3}, "encoding": {"x": {"datum": 610, "type": "quantitative", "scale": {"domain": [0, 784], "range": [0, 784]}, "axis": null}}},
        {"mark": {"type": "text", "text": "X", "fontSize": 28, "align": "center", "baseline": "middle", "dy": 4}, "encoding": {"x": {"datum": 640, "type": "quantitative", "scale": {"domain": [0, 784], "range": [0, 784]}, "axis": null}}},
        {"mark": {"type": "text", "fontSize": 24, "align": "center", "baseline": "middle", "dy": 3}, "encoding": {"x": {"datum": 700, "type": "quantitative", "scale": {"domain": [0, 784], "range": [0, 784]}, "axis": null}, "text": {"field": "coef"}}},
        {"mark": {"type": "text", "text": ")", "fontSize": 74, "align": "center", "baseline": "middle", "dy": -3}, "encoding": {"x": {"datum": 755, "type": "quantitative", "scale": {"domain": [0, 784], "range": [0, 784]}, "axis": null}}}
       ]},
      {"layer": [
        {"data": {"name": "rows"}, "transform": [{"filter": "datum.row === 7"}], "mark": {"type": "rule", "color": "#3c3c3c", "strokeWidth": 1.5}, "encoding": {"x": {"datum": -27, "type": "quantitative", "scale": {"domain": [-27, 745], "range": [136, 339], "nice": false, "zero": false}, "axis": {"orient": "bottom", "values": [0,100,200,300,400,500,600,700], "format": "d", "title": null}}, "x2": {"datum": 745}, "y": {"datum": 0, "type": "quantitative", "scale": {"domain": [-5.3, 6.2], "nice": false, "zero": false}, "axis": null}}},
        {"data": {"name": "comp"}, "transform": [{"filter": "datum.comp === 'C325'"}], "mark": {"type": "line", "color": "#2de3ec", "strokeWidth": 2.5, "interpolate": "monotone"}, "encoding": {"x": {"field": "t", "type": "quantitative", "scale": {"domain": [-27, 745], "range": [136, 339], "nice": false, "zero": false}, "axis": {"orient": "bottom", "values": [0,100,200,300,400,500,600,700], "format": "d", "title": null}}, "y": {"field": "v", "type": "quantitative", "scale": {"domain": [-5.3, 6.2], "nice": false, "zero": false}, "axis": null}}},
        {"data": {"name": "rows"}, "transform": [{"filter": "datum.row === 7"}], "mark": {"type": "text", "fontSize": 12.5, "align": "center", "baseline": "middle"}, "encoding": {"x": {"datum": 443, "type": "quantitative", "scale": {"domain": [-27, 745], "range": [136, 339], "nice": false, "zero": false}, "axis": {"orient": "bottom", "values": [0,100,200,300,400,500,600,700], "format": "d", "title": null}}, "y": {"datum": 1.23, "type": "quantitative", "scale": {"domain": [-5.3, 6.2], "nice": false, "zero": false}, "axis": null}, "text": {"field": "comp"}}}
      ]},
      {"layer": [
        {"data": {"name": "rows"}, "transform": [{"filter": "datum.row === 7"}], "mark": {"type": "rule", "color": "#3c3c3c", "strokeWidth": 1.5}, "encoding": {"x": {"datum": -27, "type": "quantitative", "scale": {"domain": [-27, 745], "range": [387.5, 591], "nice": false, "zero": false}, "axis": {"orient": "bottom", "values": [0,100,200,300,400,500,600,700], "format": "d", "title": null}}, "x2": {"datum": 745}, "y": {"datum": 0, "type": "quantitative", "scale": {"domain": [-5.3, 6.2], "nice": false, "zero": false}, "axis": null}}},
        {"data": {"name": "erp"}, "transform": [{"filter": "datum.cond === 'IRRELEVANT'"}], "mark": {"type": "line", "color": "#1a1a1a", "strokeWidth": 2, "strokeDash": [5, 3], "interpolate": "monotone"}, "encoding": {"x": {"field": "t", "type": "quantitative", "scale": {"domain": [-27, 745], "range": [387.5, 591], "nice": false, "zero": false}, "axis": {"orient": "bottom", "values": [0,100,200,300,400,500,600,700], "format": "d", "title": null}}, "y": {"field": "v", "type": "quantitative", "scale": {"domain": [-5.3, 6.2], "nice": false, "zero": false}, "axis": null}}},
        {"data": {"name": "rows"}, "transform": [{"filter": "datum.row === 7"}], "mark": {"type": "text", "text": "Subject’s ERP for", "fontSize": 12, "align": "center", "baseline": "middle"}, "encoding": {"x": {"datum": 470, "type": "quantitative", "scale": {"domain": [-27, 745], "range": [387.5, 591], "nice": false, "zero": false}, "axis": {"orient": "bottom", "values": [0,100,200,300,400,500,600,700], "format": "d", "title": null}}, "y": {"datum": 2.65, "type": "quantitative", "scale": {"domain": [-5.3, 6.2], "nice": false, "zero": false}, "axis": null}}},
        {"data": {"name": "rows"}, "transform": [{"filter": "datum.row === 7"}], "mark": {"type": "text", "text": "IRRELEVANT condition", "fontSize": 12, "align": "center", "baseline": "middle"}, "encoding": {"x": {"datum": 470, "type": "quantitative", "scale": {"domain": [-27, 745], "range": [387.5, 591], "nice": false, "zero": false}, "axis": {"orient": "bottom", "values": [0,100,200,300,400,500,600,700], "format": "d", "title": null}}, "y": {"datum": 1.0, "type": "quantitative", "scale": {"domain": [-5.3, 6.2], "nice": false, "zero": false}, "axis": null}}}
      ]}
    ]
  },
  {
    "width": 784, "height": 111,
    "resolve": {"scale": {"x": "independent"}, "axis": {"x": "independent"}},
    "layer": [
      {"data": {"name": "rows"}, "transform": [{"filter": "datum.row === 8"}],
       "encoding": {"y": {"datum": -3.2, "type": "quantitative", "scale": {"domain": [-5.3, 5.8], "nice": false, "zero": false}, "axis": null}},
       "layer": [
        {"mark": {"type": "text", "fontSize": 44, "fontWeight": "bold", "align": "center", "baseline": "middle", "dy": 2}, "encoding": {"x": {"datum": 22, "type": "quantitative", "scale": {"domain": [0, 784], "range": [0, 784]}, "axis": null}, "text": {"field": "op"}}},
        {"mark": {"type": "text", "text": "((", "fontSize": 74, "align": "center", "baseline": "middle", "dy": -3}, "encoding": {"x": {"datum": 106, "type": "quantitative", "scale": {"domain": [0, 784], "range": [0, 784]}, "axis": null}}},
        {"mark": {"type": "text", "text": "X", "fontSize": 28, "align": "center", "baseline": "middle", "dy": 4}, "encoding": {"x": {"datum": 363, "type": "quantitative", "scale": {"domain": [0, 784], "range": [0, 784]}, "axis": null}}},
        {"mark": {"type": "text", "text": ")", "fontSize": 74, "align": "center", "baseline": "middle", "dy": -3}, "encoding": {"x": {"datum": 610, "type": "quantitative", "scale": {"domain": [0, 784], "range": [0, 784]}, "axis": null}}},
        {"mark": {"type": "text", "text": "X", "fontSize": 28, "align": "center", "baseline": "middle", "dy": 4}, "encoding": {"x": {"datum": 640, "type": "quantitative", "scale": {"domain": [0, 784], "range": [0, 784]}, "axis": null}}},
        {"mark": {"type": "text", "fontSize": 24, "align": "center", "baseline": "middle", "dy": 3}, "encoding": {"x": {"datum": 700, "type": "quantitative", "scale": {"domain": [0, 784], "range": [0, 784]}, "axis": null}, "text": {"field": "coef"}}},
        {"mark": {"type": "text", "text": ")", "fontSize": 74, "align": "center", "baseline": "middle", "dy": -3}, "encoding": {"x": {"datum": 755, "type": "quantitative", "scale": {"domain": [0, 784], "range": [0, 784]}, "axis": null}}}
       ]},
      {"layer": [
        {"data": {"name": "rows"}, "transform": [{"filter": "datum.row === 8"}], "mark": {"type": "rule", "color": "#3c3c3c", "strokeWidth": 1.5}, "encoding": {"x": {"datum": -27, "type": "quantitative", "scale": {"domain": [-27, 745], "range": [136, 339], "nice": false, "zero": false}, "axis": {"orient": "bottom", "values": [0,100,200,300,400,500,600,700], "format": "d", "title": null}}, "x2": {"datum": 745}, "y": {"datum": 0, "type": "quantitative", "scale": {"domain": [-5.3, 5.8], "nice": false, "zero": false}, "axis": null}}},
        {"data": {"name": "comp"}, "transform": [{"filter": "datum.comp === 'C540'"}], "mark": {"type": "line", "color": "#f7a11c", "strokeWidth": 2.5, "interpolate": "monotone"}, "encoding": {"x": {"field": "t", "type": "quantitative", "scale": {"domain": [-27, 745], "range": [136, 339], "nice": false, "zero": false}, "axis": {"orient": "bottom", "values": [0,100,200,300,400,500,600,700], "format": "d", "title": null}}, "y": {"field": "v", "type": "quantitative", "scale": {"domain": [-5.3, 5.8], "nice": false, "zero": false}, "axis": null}}},
        {"data": {"name": "rows"}, "transform": [{"filter": "datum.row === 8"}], "mark": {"type": "text", "fontSize": 12.5, "align": "center", "baseline": "middle"}, "encoding": {"x": {"datum": 670, "type": "quantitative", "scale": {"domain": [-27, 745], "range": [136, 339], "nice": false, "zero": false}, "axis": {"orient": "bottom", "values": [0,100,200,300,400,500,600,700], "format": "d", "title": null}}, "y": {"datum": 1.6, "type": "quantitative", "scale": {"domain": [-5.3, 5.8], "nice": false, "zero": false}, "axis": null}, "text": {"field": "comp"}}}
      ]},
      {"layer": [
        {"data": {"name": "rows"}, "transform": [{"filter": "datum.row === 8"}], "mark": {"type": "rule", "color": "#3c3c3c", "strokeWidth": 1.5}, "encoding": {"x": {"datum": -27, "type": "quantitative", "scale": {"domain": [-27, 745], "range": [387.5, 591], "nice": false, "zero": false}, "axis": {"orient": "bottom", "values": [0,100,200,300,400,500,600,700], "format": "d", "title": null}}, "x2": {"datum": 745}, "y": {"datum": 0, "type": "quantitative", "scale": {"domain": [-5.3, 5.8], "nice": false, "zero": false}, "axis": null}}},
        {"data": {"name": "erp"}, "transform": [{"filter": "datum.cond === 'IRRELEVANT'"}], "mark": {"type": "line", "color": "#1a1a1a", "strokeWidth": 2, "strokeDash": [5, 3], "interpolate": "monotone"}, "encoding": {"x": {"field": "t", "type": "quantitative", "scale": {"domain": [-27, 745], "range": [387.5, 591], "nice": false, "zero": false}, "axis": {"orient": "bottom", "values": [0,100,200,300,400,500,600,700], "format": "d", "title": null}}, "y": {"field": "v", "type": "quantitative", "scale": {"domain": [-5.3, 5.8], "nice": false, "zero": false}, "axis": null}}},
        {"data": {"name": "rows"}, "transform": [{"filter": "datum.row === 8"}], "mark": {"type": "text", "text": "Subject’s ERP for", "fontSize": 12, "align": "center", "baseline": "middle"}, "encoding": {"x": {"datum": 470, "type": "quantitative", "scale": {"domain": [-27, 745], "range": [387.5, 591], "nice": false, "zero": false}, "axis": {"orient": "bottom", "values": [0,100,200,300,400,500,600,700], "format": "d", "title": null}}, "y": {"datum": 2.65, "type": "quantitative", "scale": {"domain": [-5.3, 5.8], "nice": false, "zero": false}, "axis": null}}},
        {"data": {"name": "rows"}, "transform": [{"filter": "datum.row === 8"}], "mark": {"type": "text", "text": "IRRELEVANT condition", "fontSize": 12, "align": "center", "baseline": "middle"}, "encoding": {"x": {"datum": 470, "type": "quantitative", "scale": {"domain": [-27, 745], "range": [387.5, 591], "nice": false, "zero": false}, "axis": {"orient": "bottom", "values": [0,100,200,300,400,500,600,700], "format": "d", "title": null}}, "y": {"datum": 1.0, "type": "quantitative", "scale": {"domain": [-5.3, 5.8], "nice": false, "zero": false}, "axis": null}}},
        {"data": {"name": "stim"}, "mark": {"type": "rule", "color": "#999999", "strokeWidth": 1}, "encoding": {"x": {"field": "t", "type": "quantitative", "scale": {"domain": [-27, 745], "range": [387.5, 591], "nice": false, "zero": false}, "axis": {"orient": "bottom", "values": [0,100,200,300,400,500,600,700], "format": "d", "title": null}}, "y": {"datum": -5.2, "type": "quantitative", "scale": {"domain": [-5.3, 5.8], "nice": false, "zero": false}, "axis": null}, "y2": {"datum": -4.0}}},
        {"data": {"name": "stim"}, "mark": {"type": "text", "fontSize": 12.5, "align": "center", "baseline": "middle", "dx": 4}, "encoding": {"x": {"field": "t", "type": "quantitative", "scale": {"domain": [-27, 745], "range": [387.5, 591], "nice": false, "zero": false}, "axis": {"orient": "bottom", "values": [0,100,200,300,400,500,600,700], "format": "d", "title": null}}, "y": {"datum": -7.1, "type": "quantitative", "scale": {"domain": [-5.3, 5.8], "nice": false, "zero": false}, "axis": null}, "text": {"field": "label"}}},
        {"data": {"name": "rows"}, "transform": [{"filter": "datum.row === 8"}], "mark": {"type": "text", "text": "(ms)", "fontSize": 12.5, "align": "center", "baseline": "middle", "dx": 6}, "encoding": {"x": {"datum": 700, "type": "quantitative", "scale": {"domain": [-27, 745], "range": [387.5, 591], "nice": false, "zero": false}, "axis": {"orient": "bottom", "values": [0,100,200,300,400,500,600,700], "format": "d", "title": null}}, "y": {"datum": -8.6, "type": "quantitative", "scale": {"domain": [-5.3, 5.8], "nice": false, "zero": false}, "axis": null}}}
      ]}
    ]
  },
  {
    "width": 784, "height": 115,
    "data": {"name": "rows"},
    "transform": [{"filter": "datum.row === 1"}],
    "layer": [
      {"mark": {"type": "text", "text": "+", "fontSize": 44, "fontWeight": "bold", "align": "center", "baseline": "middle", "dy": 2}, "encoding": {"x": {"datum": 51, "type": "quantitative", "scale": {"domain": [0, 784], "range": [0, 784]}, "axis": null}, "y": {"datum": 71, "type": "quantitative", "scale": {"domain": [0, 115], "reverse": true}, "axis": null}}},
      {"mark": {"type": "text", "text": "-0.25 (Constant for Discriminant Function)", "fontSize": 25, "align": "left", "baseline": "middle"}, "encoding": {"x": {"datum": 70, "type": "quantitative", "scale": {"domain": [0, 784], "range": [0, 784]}, "axis": null}, "y": {"datum": 71, "type": "quantitative", "scale": {"domain": [0, 115], "reverse": true}, "axis": null}}},
      {"mark": {"type": "text", "text": "=", "fontSize": 26, "fontWeight": "bold", "align": "center", "baseline": "middle"}, "encoding": {"x": {"datum": 564, "type": "quantitative", "scale": {"domain": [0, 784], "range": [0, 784]}, "axis": null}, "y": {"datum": 72, "type": "quantitative", "scale": {"domain": [0, 115], "reverse": true}, "axis": null}}},
      {"mark": {"type": "text", "text": "Subject’s", "fontSize": 21.5, "fontWeight": "bold", "align": "center", "baseline": "middle"}, "encoding": {"x": {"datum": 666, "type": "quantitative", "scale": {"domain": [0, 784], "range": [0, 784]}, "axis": null}, "y": {"datum": 72, "type": "quantitative", "scale": {"domain": [0, 115], "reverse": true}, "axis": null}}},
      {"mark": {"type": "text", "text": "Classification Score", "fontSize": 21.5, "fontWeight": "bold", "align": "center", "baseline": "middle"}, "encoding": {"x": {"datum": 683, "type": "quantitative", "scale": {"domain": [0, 784], "range": [0, 784]}, "axis": null}, "y": {"datum": 99, "type": "quantitative", "scale": {"domain": [0, 115], "reverse": true}, "axis": null}}}
    ]
  }
]
}
